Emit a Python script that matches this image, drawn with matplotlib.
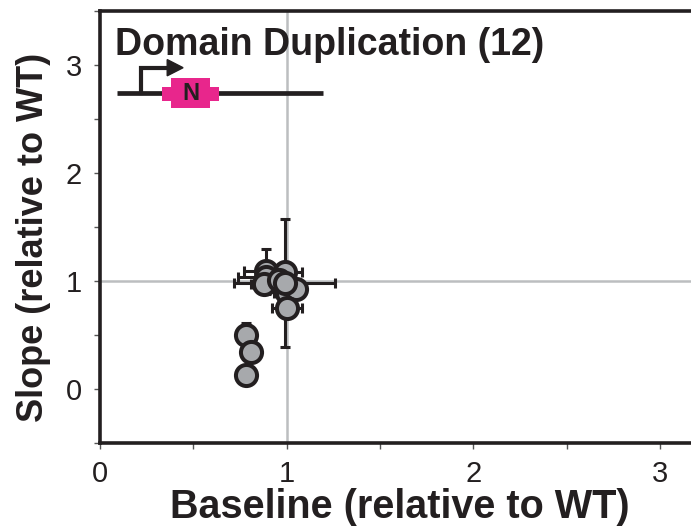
import matplotlib
matplotlib.use("Agg")
import matplotlib.pyplot as plt
import matplotlib.ticker as mticker
from matplotlib.patches import Rectangle, Polygon

plt.rcParams["font.family"] = ["Liberation Sans", "DejaVu Sans"]

# baseline / slope relative to WT, 12 domain-duplication variants
baseline = [0.89, 0.89, 0.88, 0.99, 0.96, 1.00, 1.05, 1.00, 0.99, 0.78, 0.81, 0.78]
slope    = [1.09, 1.04, 0.97, 1.08, 1.01, 0.89, 0.93, 0.75, 0.98, 0.50, 0.34, 0.13]
base_err = [0.12, 0.15, 0.07, 0.09, 0.05, 0.07, 0.04, 0.08, 0.27, 0.03, 0.03, 0.03]
slope_err = [0.21, 0.06, 0.06, 0.06, 0.05, 0.05, 0.05, 0.05, 0.59, 0.11, 0.04, 0.04]

TITLE = "Domain Duplication (12)"
DARK  = "#231f20"
GREY  = "#a7a9ac"
LIGHT = "#bcbec0"
PINK  = "#e8268c"

fig = plt.figure(figsize=(6.91, 5.27), dpi=100)
ax = fig.add_axes([100 / 691, 84 / 527, 600 / 691, 432 / 527])
ax.set_xlim(0, 3.214)
ax.set_ylim(-0.5, 3.5)

# reference lines at WT = 1
ax.axvline(1, color=LIGHT, lw=1.8, zorder=1)
ax.axhline(1, color=LIGHT, lw=1.8, zorder=1)

ax.errorbar(baseline, slope, xerr=base_err, yerr=slope_err, fmt="none",
            ecolor=DARK, elinewidth=2.2, capsize=3.6, capthick=2.2, zorder=2)
ax.plot(baseline, slope, ls="none", marker="o", ms=15.2, mfc=GREY,
        mec=DARK, mew=2.9, zorder=3)

# little gene cartoon: promoter arrow + duplicated N domain
ax.plot([0.091, 1.194], [2.74, 2.74], color=DARK, lw=3.4, solid_capstyle="butt", zorder=3)
ax.plot([0.222, 0.222, 0.37], [2.74, 2.975, 2.975], color=DARK, lw=3.0,
        solid_joinstyle="miter", zorder=3)
ax.add_patch(Polygon([[0.36, 3.05], [0.445, 2.975], [0.36, 2.90]],
                     closed=True, color=DARK, zorder=3))
ax.add_patch(Rectangle((0.33, 2.67), 0.31, 0.13, color=PINK, lw=0, zorder=4))
ax.add_patch(Rectangle((0.38, 2.60), 0.21, 0.28, color=PINK, lw=0, zorder=4))
ax.text(0.485, 2.735, "N", ha="center", va="center", fontsize=17,
        fontweight="bold", color=DARK, zorder=5)

ax.text(0.08, 3.09, TITLE, fontsize=27, fontweight="bold", color=DARK,
        ha="left", va="baseline")

ax.xaxis.set_major_locator(mticker.MultipleLocator(1))
ax.xaxis.set_minor_locator(mticker.MultipleLocator(0.5))
ax.yaxis.set_major_locator(mticker.MultipleLocator(1))
ax.yaxis.set_minor_locator(mticker.MultipleLocator(0.5))
ax.xaxis.set_major_formatter(mticker.FuncFormatter(lambda v, _: f"{v:.0f}"))
ax.yaxis.set_major_formatter(mticker.FuncFormatter(lambda v, _: f"{v:.0f}"))
ax.tick_params(which="both", direction="out", length=4, width=1, color="#555555",
               labelsize=21, labelcolor=DARK)
ax.tick_params(axis="y", pad=9)
ax.tick_params(axis="x", pad=8)

for side in ("left", "top", "bottom"):
    ax.spines[side].set_linewidth(2.6)
    ax.spines[side].set_color(DARK)
ax.spines["right"].set_visible(False)

ax.set_xlabel("Baseline (relative to WT)", fontsize=28.5, fontweight="bold",
              color=DARK, labelpad=0)
ax.set_ylabel("Slope (relative to WT)", fontsize=26, fontweight="bold", color=DARK)
ax.yaxis.set_label_coords(-0.082, 0.475)

fig.savefig("out.png", dpi=100)
